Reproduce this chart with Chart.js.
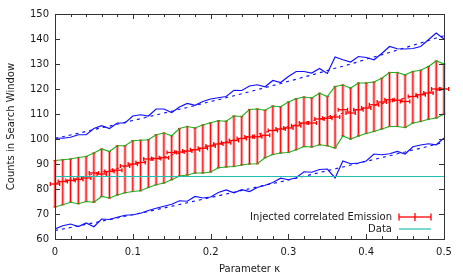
<!DOCTYPE html>
<html>
<head>
<meta charset="utf-8">
<script src="https://cdn.jsdelivr.net/npm/chart.js@4/dist/chart.umd.min.js"></script>
<style>
  html, body { margin: 0; padding: 0; background: #fff; }
  #wrap { width: 463px; height: 278px; position: relative; }
</style>
</head>
<body>
<div id="wrap"><canvas id="chart"></canvas></div>
<script>
// parameter kappa, one sample every 0.01
const kappa = [0, 0.01, 0.02, 0.03, 0.04, 0.05, 0.06, 0.07, 0.08, 0.09,
  0.1, 0.11, 0.12, 0.13, 0.14, 0.15, 0.16, 0.17, 0.18, 0.19,
  0.2, 0.21, 0.22, 0.23, 0.24, 0.25, 0.26, 0.27, 0.28, 0.29,
  0.3, 0.31, 0.32, 0.33, 0.34, 0.35, 0.36, 0.37, 0.38, 0.39,
  0.4, 0.41, 0.42, 0.43, 0.44, 0.45, 0.46, 0.47, 0.48, 0.49, 0.5];

// outer envelope (blue)
const blueUpper = [100.4, 100.3, 100.7, 101.7, 101.7, 104.2, 105.3, 104.2, 106.4, 106.4,
  109.2, 109.7, 109.2, 112, 112, 110.6, 112.8, 114.2, 113.5, 115,
  116, 116.5, 117, 119.5, 119.4, 121.2, 121.7, 120.9, 123.4, 122.6,
  125, 127, 127, 126.4, 128.2, 126.2, 132.8, 131.7, 130.8, 133,
  132.6, 131.7, 134.2, 137, 136.1, 136, 136.2, 137, 139.7, 142.4, 140];
const blueUpperFit = [100.2, 100.9, 101.6, 102.3, 103.0, 103.8, 104.5, 105.2, 105.9, 106.7,
  107.4, 108.1, 108.9, 109.6, 110.4, 111.1, 111.9, 112.6, 113.4, 114.2,
  115.0, 115.7, 116.5, 117.3, 118.1, 118.9, 119.7, 120.6, 121.4, 122.2,
  123.1, 123.9, 124.8, 125.6, 126.5, 127.4, 128.3, 129.1, 130.0, 130.9,
  131.9, 132.8, 133.7, 134.6, 135.6, 136.5, 137.5, 138.4, 139.4, 140.4, 141.3];
const blueLower = [64, 65.3, 66, 65, 66.4, 64.9, 68, 67.8, 68.7, 69.5,
  69.7, 70.3, 71.4, 72.3, 73.1, 73.9, 75.3, 75.1, 77, 76.4,
  76.8, 78.6, 79.6, 78.5, 79.7, 79, 80.6, 81.5, 82.6, 84.3,
  83.7, 84.5, 86.9, 86.7, 87.8, 88, 84.4, 91.2, 90.1, 90.4,
  91.2, 94, 93.7, 94.1, 95, 94, 96.9, 97.6, 98.1, 97.7, 100.4];
const blueLowerFit = [63.4, 64.0, 64.6, 65.2, 65.9, 66.5, 67.1, 67.8, 68.4, 69.1,
  69.7, 70.4, 71.0, 71.7, 72.4, 73.1, 73.8, 74.5, 75.2, 75.9,
  76.6, 77.3, 78.0, 78.7, 79.4, 80.1, 80.8, 81.5, 82.2, 82.9,
  83.6, 84.3, 85.1, 85.8, 86.6, 87.3, 88.1, 88.8, 89.6, 90.3,
  91.1, 91.8, 92.6, 93.3, 94.1, 94.8, 95.6, 96.3, 97.1, 97.9, 98.7];

// inner band (green) = ends of the red error bars
const bandHigh = [91.4, 91.7, 92, 92.6, 93, 94.4, 96, 95, 97.3, 97.3,
  99.3, 99.5, 99.7, 101.7, 102.4, 101.3, 104.2, 105, 104.4, 105.6,
  106.5, 107.3, 107.1, 109.2, 109, 111.8, 112, 111.5, 113.2, 112.9,
  114.8, 116.1, 116.8, 116.4, 118.3, 117, 121, 121.6, 120.4, 122.4,
  122.4, 122.8, 124.3, 126.6, 126.6, 125.7, 127, 127.5, 129, 131.2, 130];
const bandLow = [72.8, 73.7, 74.7, 74.1, 75, 74.7, 77, 76.4, 77.6, 78.5,
  79, 79.3, 80.6, 81.7, 82.4, 83.7, 85.2, 85.6, 86.4, 86.4,
  86.8, 88.5, 88.8, 89, 89.6, 90, 90.1, 92.5, 93.8, 94.4,
  94.6, 95.7, 97, 96.8, 97.7, 97.3, 96.4, 101.2, 100, 101.2,
  102.2, 103, 104, 105, 105, 104.6, 106.4, 107, 107.9, 108.4, 110];

// injected emission: central value and its fit
const center = [82, 83, 83.4, 83.8, 84.4, 86.4, 86, 87, 87.5, 89.2,
  90, 90.6, 92, 92.2, 92.5, 94.6, 94.8, 95.2, 95.7, 96.3,
  97.2, 98, 98.5, 99.4, 100.2, 100.8, 100.9, 101.5, 103.4, 104,
  104.4, 105.3, 106.4, 106.4, 108, 108.3, 108.8, 111.7, 110.4, 111.7,
  112.4, 113.7, 114.8, 115.7, 115.5, 115, 117, 117.7, 118.4, 120, 120];
const centerFit = [82.2, 83.0, 83.7, 84.5, 85.2, 86.0, 86.7, 87.5, 88.2, 89.0,
  89.8, 90.5, 91.3, 92.0, 92.8, 93.6, 94.3, 95.1, 95.8, 96.6,
  97.4, 98.1, 98.9, 99.6, 100.4, 101.2, 101.9, 102.7, 103.4, 104.2,
  105.0, 105.7, 106.5, 107.2, 108.0, 108.8, 109.5, 110.3, 111.0, 111.8,
  112.6, 113.3, 114.1, 114.8, 115.6, 116.4, 117.1, 117.9, 118.6, 119.4, 120.2];
const kappaErr = 0.006;

// measured data level
const dataKappa = [0, 0.5];
const dataLevel = [85, 85];

const xTicks = [0, 0.1, 0.2, 0.3, 0.4, 0.5];
const xTickLabels = ['0', '0.1', '0.2', '0.3', '0.4', '0.5'];
const xMinorTicks = [0.02, 0.04, 0.06, 0.08, 0.12, 0.14, 0.16, 0.18, 0.22, 0.24, 0.26, 0.28,
  0.32, 0.34, 0.36, 0.38, 0.42, 0.44, 0.46, 0.48];
const yTicks = [60, 70, 80, 90, 100, 110, 120, 130, 140, 150];

const FONT = '10px "DejaVu Sans"';
const TXT = '#1a1a1a';
const RED = '#ff0000';
const CYAN = '#20c0b0';

const pts = (xs, ys) => xs.map((k, i) => ({ x: k, y: ys[i] }));

function seg(ctx, x0, y0, x1, y1) {
  ctx.beginPath();
  ctx.moveTo(x0, y0);
  ctx.lineTo(x1, y1);
  ctx.stroke();
}

// red error bars, drawn under the lines
const errorBars = {
  id: 'errorBars',
  beforeDatasetsDraw(chart) {
    const { ctx, scales: { x, y } } = chart;
    ctx.save();
    kappa.forEach((k, i) => {
      const px = x.getPixelForValue(k);
      const top = y.getPixelForValue(bandHigh[i]);
      const bot = y.getPixelForValue(bandLow[i]);
      ctx.strokeStyle = 'rgba(255,60,60,0.45)';
      ctx.lineWidth = 3;
      seg(ctx, px, top, px, bot);
      ctx.strokeStyle = RED;
      ctx.lineWidth = 1;
      seg(ctx, px, top, px, bot);
      ctx.lineWidth = 1.2;
      seg(ctx, px - 1.5, top, px + 1.5, top);
      seg(ctx, px - 1.5, bot, px + 1.5, bot);
      const cy = y.getPixelForValue(center[i]);
      const x0 = x.getPixelForValue(k - kappaErr);
      const x1 = x.getPixelForValue(k + kappaErr);
      ctx.lineWidth = 1.3;
      seg(ctx, x0, cy, x1, cy);
      seg(ctx, x0, cy - 2, x0, cy + 2);
      seg(ctx, x1, cy - 2, x1, cy + 2);
    });
    ctx.restore();
  }
};

// gnuplot style frame, ticks, labels and key
const frame = {
  id: 'frame',
  afterDatasetsDraw(chart) {
    const { ctx, chartArea: a, scales: { x, y } } = chart;
    ctx.save();
    ctx.strokeStyle = '#333';
    ctx.lineWidth = 1;
    ctx.strokeRect(Math.round(a.left) + 0.5, Math.round(a.top) + 0.5,
      Math.round(a.right - a.left), Math.round(a.bottom - a.top));

    xTicks.forEach(v => {
      const p = Math.round(x.getPixelForValue(v)) + 0.5;
      seg(ctx, p, a.bottom, p, a.bottom - 5);
      seg(ctx, p, a.top, p, a.top + 5);
    });
    xMinorTicks.forEach(v => {
      const p = Math.round(x.getPixelForValue(v)) + 0.5;
      seg(ctx, p, a.bottom, p, a.bottom - 3);
      seg(ctx, p, a.top, p, a.top + 3);
    });
    yTicks.forEach(v => {
      const p = Math.round(y.getPixelForValue(v)) + 0.5;
      seg(ctx, a.left, p, a.left + 5, p);
      seg(ctx, a.right, p, a.right - 5, p);
    });

    ctx.fillStyle = TXT;
    ctx.font = FONT;
    ctx.textAlign = 'right';
    ctx.textBaseline = 'middle';
    yTicks.forEach(v => ctx.fillText(String(v), a.left - 6, y.getPixelForValue(v)));
    ctx.textAlign = 'center';
    xTicks.forEach((v, i) => ctx.fillText(xTickLabels[i], x.getPixelForValue(v), a.bottom + 13));

    ctx.fillText('Parameter \u03ba', (a.left + a.right) / 2, a.bottom + 30);
    ctx.save();
    ctx.translate(11, (a.top + a.bottom) / 2);
    ctx.rotate(-Math.PI / 2);
    ctx.fillText('Counts in Search Window', 0, 0);
    ctx.restore();

    // key
    const kx = 392, sx0 = 399, sx1 = 431, k1 = 217, k2 = 229;
    ctx.textAlign = 'right';
    ctx.fillText('Injected correlated Emission', kx, k1);
    ctx.fillText('Data', kx, k2);
    ctx.strokeStyle = RED;
    ctx.lineWidth = 1.3;
    seg(ctx, sx0, k1, sx1, k1);
    seg(ctx, sx0, k1 - 3.5, sx0, k1 + 3.5);
    seg(ctx, sx1, k1 - 3.5, sx1, k1 + 3.5);
    seg(ctx, (sx0 + sx1) / 2, k1 - 4, (sx0 + sx1) / 2, k1 + 4);
    ctx.strokeStyle = CYAN;
    ctx.lineWidth = 1.2;
    seg(ctx, sx0, k2, sx1, k2);
    ctx.restore();
  }
};

const line = (data, color, dash, width) => ({
  data, borderColor: color, borderWidth: width || 1.2, borderDash: dash || [],
  pointRadius: 0, tension: 0, fill: false
});

new Chart(document.getElementById('chart'), {
  type: 'line',
  data: {
    datasets: [
      line(pts(dataKappa, dataLevel), CYAN, null, 1.2),
      line(pts(kappa, blueUpper), '#1010ff'),
      line(pts(kappa, blueUpperFit), '#1010ff', [3, 4]),
      line(pts(kappa, blueLower), '#1010ff'),
      line(pts(kappa, blueLowerFit), '#1010ff', [3, 4]),
      line(pts(kappa, bandHigh), '#22b022'),
      line(pts(kappa, bandLow), '#22b022'),
      line(pts(kappa, centerFit), RED, [3, 4], 1)
    ]
  },
  options: {
    responsive: true,
    maintainAspectRatio: false,
    animation: false,
    layout: { padding: { left: 55, right: 19, top: 14, bottom: 39 } },
    plugins: { legend: { display: false }, tooltip: { enabled: false } },
    scales: {
      x: { type: 'linear', min: 0, max: 0.5, display: false },
      y: { min: 60, max: 150, display: false }
    }
  },
  plugins: [errorBars, frame]
});
</script>
</body>
</html>
